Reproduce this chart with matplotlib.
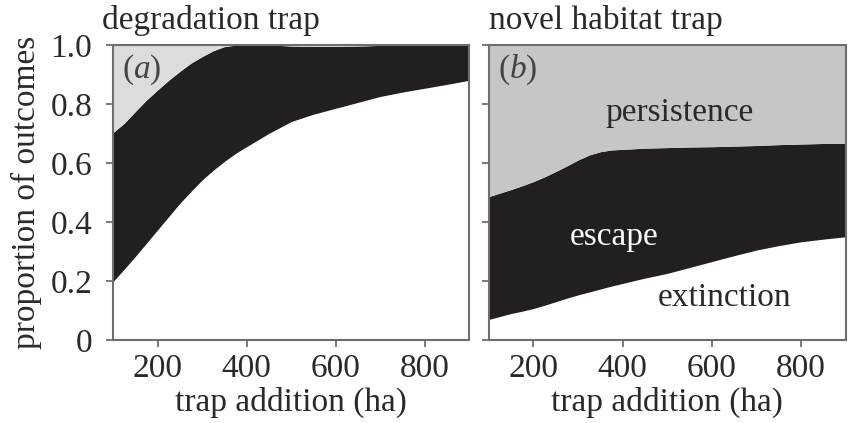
import matplotlib
matplotlib.use("Agg")
import matplotlib.pyplot as plt

plt.rcParams['font.family'] = ['Liberation Serif', 'DejaVu Serif']
plt.rcParams['mathtext.fontset'] = 'custom'
plt.rcParams['mathtext.it'] = 'Liberation Serif:italic'
plt.rcParams['mathtext.rm'] = 'Liberation Serif'

# trap addition (ha)
x = [100, 125, 150, 175, 200, 225, 250, 275, 300, 325, 350, 375, 400,
     450, 500, 550, 600, 650, 700, 750, 800, 850, 900]

# (a) degradation trap: cumulative boundaries (extinction, extinction+escape)
a_ext = [0.198, 0.24, 0.283, 0.328, 0.373, 0.418, 0.463, 0.503, 0.542, 0.575, 0.605, 0.632, 0.655,
         0.70, 0.74, 0.765, 0.785, 0.805, 0.825, 0.84, 0.853, 0.866, 0.88]
a_esc = [0.703, 0.734, 0.774, 0.813, 0.847, 0.88, 0.91, 0.938, 0.96, 0.98, 0.994, 0.999, 1.0,
         1.0, 0.996, 0.995, 0.995, 0.996, 0.998, 1.0, 1.0, 1.0, 1.0]

# (b) novel habitat trap
b_ext = [0.07, 0.08, 0.09, 0.098, 0.107, 0.118, 0.13, 0.142, 0.153, 0.163, 0.173, 0.183, 0.192,
         0.21, 0.226, 0.246, 0.266, 0.286, 0.305, 0.32, 0.333, 0.342, 0.35]
b_esc = [0.486, 0.498, 0.51, 0.523, 0.537, 0.553, 0.571, 0.59, 0.61, 0.627, 0.638, 0.644, 0.646,
         0.65, 0.652, 0.654, 0.655, 0.657, 0.659, 0.662, 0.664, 0.666, 0.667]

titles = ["degradation trap", "novel habitat trap"]
tags = ["a", "b"]

fig = plt.figure(figsize=(8.56, 4.23), dpi=100)
ax1 = fig.add_axes([0.132, 0.196, 0.416, 0.698])
ax2 = fig.add_axes([0.571, 0.196, 0.417, 0.698])

black = '#231f20'
spine_col = '#6e6e6e'
txt_col = '#2a2a2a'
fs = 24

ax1.fill_between(x, 0, a_ext, color='white', lw=0)
ax1.fill_between(x, a_ext, a_esc, color=black, lw=0)
ax1.fill_between(x, a_esc, 1, color='#dcdcdc', lw=0)

ax2.fill_between(x, 0, b_ext, color='white', lw=0)
ax2.fill_between(x, b_ext, b_esc, color=black, lw=0)
ax2.fill_between(x, b_esc, 1, color='#c6c6c6', lw=0)

for i, ax in enumerate([ax1, ax2]):
    ax.set_xlim(100, 900)
    ax.set_ylim(0, 1)
    ax.set_xticks([200, 400, 600, 800])
    ax.set_yticks([0, 0.2, 0.4, 0.6, 0.8, 1.0])
    for s in ax.spines.values():
        s.set_color(spine_col)
        s.set_linewidth(1.5)
    ax.tick_params(direction='out', length=5, width=1.3, color=spine_col,
                   labelsize=fs, labelcolor=txt_col, pad=5)
    ax.tick_params(axis='y', pad=10)
    ax.set_xlabel("trap addition (ha)", fontsize=fs, color=txt_col, labelpad=2)
    ax.text(-0.03 if i == 0 else 0.0, 1.03, titles[i], transform=ax.transAxes,
            fontsize=fs, color=txt_col, ha='left', va='bottom')
    ax.text(0.025, 0.975, "($\\it{" + tags[i] + "}$)", transform=ax.transAxes,
            fontsize=fs, color='#444444', ha='left', va='top')

ax1.set_yticklabels(["0", "0.2", "0.4", "0.6", "0.8", "1.0"])
ax1.set_ylabel("proportion of outcomes", fontsize=fs, color=txt_col, labelpad=6)
ax2.set_yticklabels([])

ax2.text(0.535, 0.77, "persistence", transform=ax2.transAxes, fontsize=fs,
         color=txt_col, ha='center', va='center')
ax2.text(0.35, 0.35, "escape", transform=ax2.transAxes, fontsize=fs,
         color='white', ha='center', va='center')
ax2.text(0.66, 0.145, "extinction", transform=ax2.transAxes, fontsize=fs,
         color=txt_col, ha='center', va='center')

fig.savefig("out.png", dpi=100)
